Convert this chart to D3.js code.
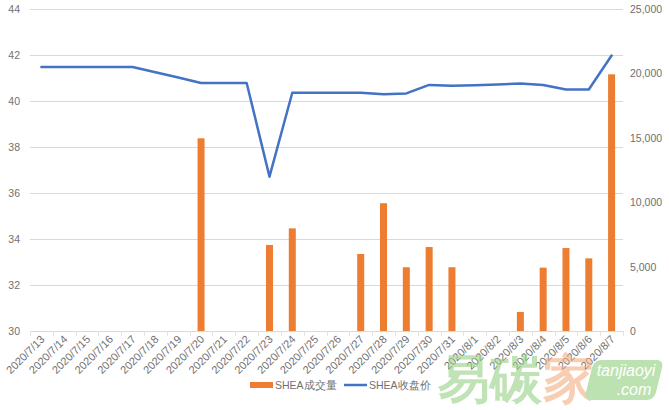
<!DOCTYPE html>
<html><head><meta charset="utf-8">
<script src="https://cdn.jsdelivr.net/npm/d3@7"></script>
<style>
body{margin:0;background:#fff;}
text{font-family:"Liberation Sans","Open Sans",sans-serif;}
</style></head>
<body><svg id="c" width="669" height="410"></svg>
<script>
const dates = ["2020/7/13","2020/7/14","2020/7/15","2020/7/16","2020/7/17","2020/7/18","2020/7/19","2020/7/20","2020/7/21","2020/7/22","2020/7/23","2020/7/24","2020/7/25","2020/7/26","2020/7/27","2020/7/28","2020/7/29","2020/7/30","2020/7/31","2020/8/1","2020/8/2","2020/8/3","2020/8/4","2020/8/5","2020/8/6","2020/8/7"];
const volume = [0,0,0,0,0,0,0,14960,0,0,6680,7970,0,0,5980,9920,4950,6520,4950,0,0,1480,4920,6440,5640,19930];
const close = [41.48,41.48,41.48,41.48,41.48,41.25,41.02,40.78,40.78,40.78,36.71,40.36,40.36,40.36,40.36,40.29,40.33,40.70,40.66,40.69,40.72,40.76,40.70,40.50,40.50,41.98];
const leftTicks = [30,32,34,36,38,40,42,44];
const rightTicks = [0,5000,10000,15000,20000,25000];
const seriesNames = ["SHEA成交量","SHEA收盘价"];

const svg = d3.select("#c");
const L=30, R=623, T=9, B=331;
const x = d3.scaleBand().domain(dates).range([L,R]);
const yL = d3.scaleLinear().domain([30,44]).range([B,T]);
const yR = d3.scaleLinear().domain([0,25000]).range([B,T]);
const grey="#707070";

// gridlines
svg.append("g").selectAll("line").data(leftTicks.slice(1)).join("line")
  .attr("x1",L).attr("x2",R).attr("y1",d=>yL(d)).attr("y2",d=>yL(d))
  .attr("stroke","#d9d9d9").attr("stroke-width",1).attr("shape-rendering","crispEdges");

// left axis labels
svg.append("g").selectAll("text").data(leftTicks).join("text")
  .attr("x",20).attr("y",d=>yL(d)+4).attr("text-anchor","end")
  .attr("font-size",10.5).attr("fill",grey).text(d=>d);
// right axis labels
svg.append("g").selectAll("text").data(rightTicks).join("text")
  .attr("x",630).attr("y",d=>yR(d)+4).attr("text-anchor","start")
  .attr("font-size",10.5).attr("fill",grey).text(d=>d3.format(",")(d));

// bars
const bw=7;
svg.append("g").selectAll("rect").data(dates.map((d,i)=>({d,v:volume[i]})).filter(o=>o.v>0)).join("rect")
  .attr("x",o=>x(o.d)+x.bandwidth()/2-bw/2).attr("width",bw)
  .attr("y",o=>yR(o.v)).attr("height",o=>B-yR(o.v)).attr("fill","#ED7D31");

// x axis line + ticks
const ax = svg.append("g");
ax.append("line").attr("x1",L).attr("x2",R).attr("y1",B+0.5).attr("y2",B+0.5).attr("stroke","#d9d9d9");
const bounds = dates.map(d=>x(d)).concat([R]);
ax.selectAll("line.t").data(bounds).join("line").attr("class","t")
  .attr("x1",d=>Math.round(d)+0.5).attr("x2",d=>Math.round(d)+0.5).attr("y1",B).attr("y2",B+5).attr("stroke","#e3e3e3");
ax.selectAll("text").data(dates).join("text")
  .attr("transform",d=>`translate(${x(d)+x.bandwidth()/2+4},${B+9}) rotate(-45)`)
  .attr("text-anchor","end").attr("font-size",11).attr("fill",grey).text(d=>d);

// line
const line = d3.line().x((d,i)=>x(dates[i])+x.bandwidth()/2).y(d=>yL(d));
svg.append("path").datum(close).attr("d",line).attr("fill","none")
  .attr("stroke","#4472C4").attr("stroke-width",2.5).attr("stroke-linejoin","round").attr("stroke-linecap","round");

// watermark
const wm = svg.append("g").attr("opacity",0.6);
wm.append("text").attr("x",438).attr("y",397).attr("font-size",52).attr("font-weight","bold")
  .attr("font-family","Noto Sans CJK SC").attr("fill","#97d187").text("易碳");
wm.append("text").attr("x",543).attr("y",397).attr("font-size",52).attr("font-weight","bold")
  .attr("font-family","Noto Sans CJK SC").attr("fill","#f4ae80").text("家");
wm.append("rect").attr("x",589).attr("y",360).attr("width",70).attr("height",40).attr("rx",7)
  .attr("fill","#8fcf7c").attr("transform","translate(624,380) skewX(-14) translate(-624,-380)");
wm.append("text").attr("x",626).attr("y",376).attr("text-anchor","middle").attr("font-size",16)
  .attr("font-style","italic").attr("fill","#fff").text("tanjiaoyi");
wm.append("text").attr("x",634).attr("y",395).attr("text-anchor","middle").attr("font-size",16)
  .attr("font-style","italic").attr("fill","#fff").text(".com");

// legend
const lg = svg.append("g");
lg.append("rect").attr("x",250).attr("y",382).attr("width",23).attr("height",6).attr("fill","#ED7D31");
lg.append("text").attr("x",275).attr("y",389).attr("font-size",10.5).attr("fill",grey).text(seriesNames[0]);
lg.append("line").attr("x1",344).attr("x2",367).attr("y1",385).attr("y2",385).attr("stroke","#4472C4").attr("stroke-width",2.5);
lg.append("text").attr("x",369).attr("y",389).attr("font-size",10.5).attr("fill",grey).text(seriesNames[1]);
</script></body></html>
